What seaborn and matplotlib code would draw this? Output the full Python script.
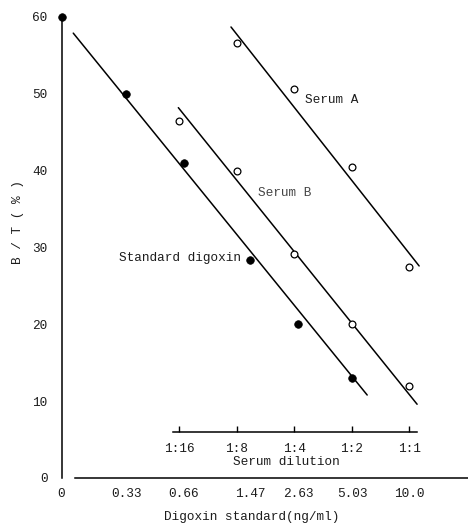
import numpy as np
import pandas as pd
import matplotlib
matplotlib.use("Agg")
import matplotlib.pyplot as plt
from matplotlib.ticker import NullLocator, FixedLocator, FixedFormatter
import seaborn as sns

# ---------------- data ----------------
std_conc = [0, 0.33, 0.66, 1.47, 2.63, 5.03]          # ng/ml
std_bt = [60, 50, 41, 28.4, 20, 13]                   # B/T %

dil_labels = ["1:16", "1:8", "1:4", "1:2", "1:1"]
dil_denom = [16, 8, 4, 2, 1]

serumA_denom = [8, 4, 2, 1]
serumA_bt = [56.6, 50.6, 40.5, 27.5]

serumB_denom = [16, 8, 4, 2, 1]
serumB_bt = [46.5, 40.0, 29.2, 20.0, 12.0]

# hand-drawn lines (end points)
std_line_conc = [0.174, 6.02]
std_line_bt = [57.9, 10.8]
serumA_line_denom = [8.58, 0.888]
serumA_line_bt = [58.7, 27.6]
serumB_line_denom = [16.19, 0.91]
serumB_line_bt = [48.2, 9.6]

xtick_conc = [0, 0.33, 0.66, 1.47, 2.63, 5.03, 10.0]
xtick_labels = ["0", "0.33", "0.66", "1.47", "2.63", "5.03", "10.0"]
ytick_vals = [0, 10, 20, 30, 40, 50, 60]

FULL_STRENGTH = 10.0   # 1:1 dilution aligned with 10.0 ng/ml
ZERO_POS = 0.151       # where "0" sits on the log axis

# ---------------- style ----------------
sns.set_theme(style="white")
plt.rcParams["font.family"] = ["Liberation Mono", "DejaVu Sans Mono"]
plt.rcParams["font.size"] = 9.2
TXT = "#1c1c1c"

fig = plt.figure(figsize=(4.68, 5.23), dpi=100)
ax = fig.add_axes([61.5 / 468, 45 / 523, 1 - 61.5 / 468, 461 / 523])

def to_pos(c):
    c = np.asarray(c, dtype=float)
    return np.where(c == 0, ZERO_POS, c)

std_df = pd.DataFrame({"x": to_pos(std_conc), "y": std_bt})
a_df = pd.DataFrame({"x": FULL_STRENGTH / np.asarray(serumA_denom, float), "y": serumA_bt})
b_df = pd.DataFrame({"x": FULL_STRENGTH / np.asarray(serumB_denom, float), "y": serumB_bt})

lines = [
    (to_pos(std_line_conc), std_line_bt),
    (FULL_STRENGTH / np.asarray(serumA_line_denom), serumA_line_bt),
    (FULL_STRENGTH / np.asarray(serumB_line_denom), serumB_line_bt),
]
for lx, ly in lines:
    sns.lineplot(x=lx, y=ly, ax=ax, color="black", lw=1.1, estimator=None, sort=False)

sns.scatterplot(data=std_df, x="x", y="y", ax=ax, s=30, color="black",
                edgecolor="black", linewidth=0.5, zorder=5, clip_on=False)
for d in (a_df, b_df):
    sns.scatterplot(data=d, x="x", y="y", ax=ax, s=24, facecolor="white",
                    edgecolor="black", linewidth=0.9, zorder=5, clip_on=False)

ax.set_xscale("log")
ax.set_xlim(ZERO_POS, 20.3)
ax.set_ylim(0, 60)

ax.xaxis.set_major_locator(FixedLocator(list(to_pos(xtick_conc))))
ax.xaxis.set_major_formatter(FixedFormatter(xtick_labels))
ax.xaxis.set_minor_locator(NullLocator())
ax.set_yticks(ytick_vals)
ax.set_yticklabels([str(v) for v in ytick_vals])

for s in ("top", "right"):
    ax.spines[s].set_visible(False)
for s in ("left", "bottom"):
    ax.spines[s].set_color("black")
    ax.spines[s].set_linewidth(1.1)
ax.spines["bottom"].set_bounds(0.1785, 20.3)

ax.tick_params(axis="x", direction="in", length=4, width=1, color="black",
               labelcolor=TXT, pad=7.5, labelsize=9.2)
ax.tick_params(axis="y", direction="in", length=4, width=1, color="black",
               labelcolor=TXT, pad=10, labelsize=9.2)

ax.set_xlabel("Digoxin standard(ng/ml)", color=TXT, fontsize=9.2)
ax.xaxis.set_label_coords(0.469, -0.071)
ax.set_ylabel("B / T ( % )", color=TXT, fontsize=9.2)
ax.yaxis.set_label_coords(-0.093, 0.555)

# serum dilution axis
sec = ax.secondary_xaxis(0.1, functions=(lambda c: c / FULL_STRENGTH,
                                          lambda d: d * FULL_STRENGTH))
sec.xaxis.set_major_locator(FixedLocator([1.0 / d for d in dil_denom]))
sec.xaxis.set_major_formatter(FixedFormatter(dil_labels))
sec.xaxis.set_minor_locator(NullLocator())
sec.tick_params(axis="x", direction="in", length=4, width=1, color="black",
                labelcolor=TXT, pad=8, labelsize=9.2)
sec.spines["bottom"].set_color("black")
sec.spines["bottom"].set_linewidth(1.1)
sec.spines["bottom"].set_bounds(0.0581, 1.10)
sec.set_xlabel("Serum dilution", color=TXT, fontsize=9.2)
sec.xaxis.set_label_coords(0.552, 0.048, transform=ax.transAxes)

# curve labels
ax.text(2.85, 49.2, "Serum A", color=TXT, fontsize=9.2, ha="left", va="center")
ax.text(1.62, 37.1, "Serum B", color="#444444", fontsize=9.2, ha="left", va="center")
ax.text(0.303, 28.6, "Standard digoxin", color=TXT, fontsize=9.2, ha="left", va="center")

fig.savefig("out.png", dpi=100)
